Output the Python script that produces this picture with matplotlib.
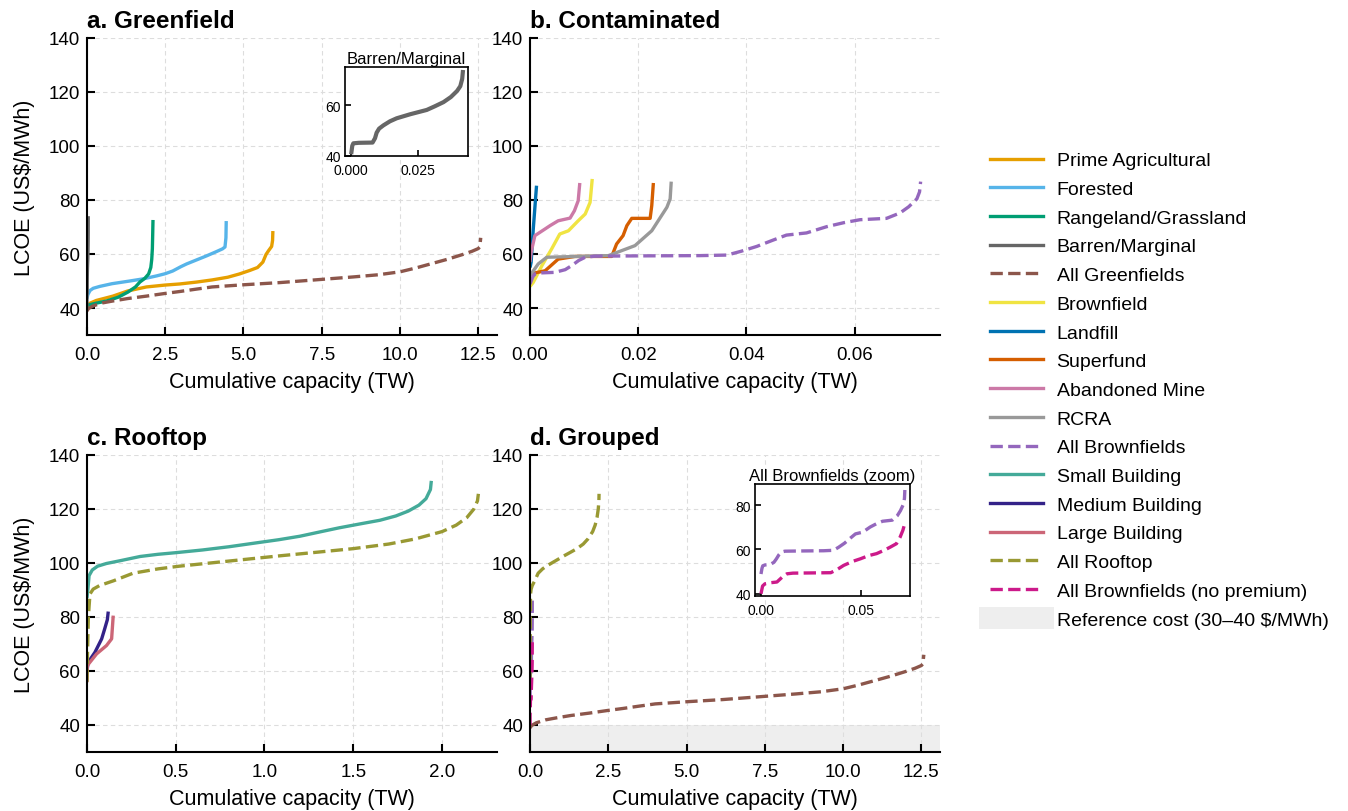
import matplotlib
matplotlib.use("Agg")
import matplotlib.pyplot as plt
from matplotlib.lines import Line2D
from matplotlib.patches import Patch, Rectangle
from matplotlib.legend_handler import HandlerPatch

plt.rcParams['font.family'] = ['Liberation Sans', 'DejaVu Sans']

# ---------------- data (cumulative capacity TW, LCOE $/MWh) ----------------
prime_x = [0, 0.1, 0.3, 0.6, 0.83, 1.3, 1.9, 2.5, 2.96, 3.5, 4.0, 4.5, 4.87, 5.2, 5.45, 5.62,
           5.72, 5.8, 5.9, 5.93, 5.94]
prime_y = [40.5, 41.8, 42.8, 43.7, 44.4, 46.3, 47.8, 48.5, 48.9, 49.6, 50.4, 51.4, 52.6, 53.9,
           55.0, 57.0, 59.8, 61.2, 62.8, 65.0, 68.5]

forest_x = [0, 0.03, 0.1, 0.2, 0.41, 0.8, 1.37, 1.8, 2.23, 2.5, 2.74, 3.0, 3.18, 3.5, 3.82, 4.1,
            4.33, 4.41, 4.44, 4.45]
forest_y = [43.5, 45.0, 46.5, 47.3, 48.0, 49.0, 50.0, 50.8, 51.9, 52.7, 53.7, 55.3, 56.3, 57.8,
            59.3, 60.7, 61.9, 62.6, 66.0, 72.2]

range_x = [0, 0.3, 0.63, 1.0, 1.31, 1.55, 1.69, 1.85, 1.97, 2.04, 2.07, 2.09, 2.1, 2.11]
range_y = [41.0, 41.8, 42.6, 44.0, 45.9, 47.8, 49.6, 51.0, 52.6, 55.0, 58.0, 62.0, 67.0, 72.6]

barren_x = [0.0002, 0.0006, 0.001, 0.003, 0.0081, 0.009, 0.0096, 0.0105, 0.0121, 0.0145, 0.017,
            0.022, 0.0281, 0.031, 0.0343, 0.037, 0.0393, 0.0405, 0.0412, 0.0415]
barren_y = [40.7, 44.0, 45.0, 45.2, 45.3, 47.0, 49.2, 50.8, 52.1, 53.7, 54.9,
            56.5, 58.2, 59.6, 61.3, 63.3, 65.7, 67.6, 70.5, 74.0]

allgreen_x = [0, 0.05, 0.2, 0.5, 0.83, 1.3, 1.9, 2.5, 2.96, 3.5, 4.0, 5.0, 6.15, 7.5, 8.5, 9.3,
              10.0, 10.5, 11.0, 11.5, 12.0, 12.3, 12.5, 12.55, 12.58]
allgreen_y = [38.9, 39.8, 40.8, 41.9, 42.6, 43.5, 44.4, 45.4, 46.1, 47.0, 47.8, 48.6, 49.4, 50.6,
              51.5, 52.3, 53.4, 54.8, 56.4, 58.0, 59.8, 61.0, 62.0, 62.6, 66.0]

brownf_x = [0, 0.0006, 0.0022, 0.004, 0.0055, 0.0071, 0.0089, 0.0102, 0.0111, 0.0115]
brownf_y = [48.0, 49.5, 55.7, 61.9, 67.4, 68.6, 72.3, 74.8, 79.1, 87.8]

landfill_x = [0, 0.0002, 0.0006, 0.0012]
landfill_y = [55.0, 56.9, 69.3, 85.3]

superfund_x = [0, 0.0028, 0.0052, 0.0083, 0.0151, 0.016, 0.0172, 0.0179, 0.0188, 0.0222, 0.0225, 0.0228]
superfund_y = [52.6, 53.8, 58.1, 59.1, 59.1, 63.7, 66.8, 70.5, 73.2, 73.2, 77.9, 86.3]

mine_x = [0, 0.0002, 0.0009, 0.0028, 0.0037, 0.0052, 0.0074, 0.0082, 0.0089, 0.0092]
mine_y = [57.0, 60.6, 66.8, 69.3, 70.5, 72.3, 73.3, 76.0, 79.7, 86.3]

rcra_x = [0, 0.0015, 0.0031, 0.0145, 0.0194, 0.0225, 0.0253, 0.0259, 0.0261]
rcra_y = [52.0, 56.3, 58.8, 59.4, 63.1, 68.6, 77.3, 80.4, 86.8]

allbrown_x = [0, 0.0005, 0.0009, 0.002, 0.0046, 0.0065, 0.0077, 0.009, 0.0102, 0.012, 0.02,
              0.0314, 0.0364, 0.039, 0.0419, 0.045, 0.0474, 0.0511, 0.0548, 0.058, 0.061,
              0.0659, 0.0684, 0.07, 0.0715, 0.072, 0.0722]
allbrown_y = [48.9, 51.5, 52.6, 53.0, 53.2, 54.2, 55.7, 57.6, 58.8, 59.2, 59.3,
              59.4, 59.6, 61.0, 62.8, 65.2, 67.0, 67.8, 70.1, 71.6, 72.7,
              73.2, 75.2, 77.5, 80.4, 83.0, 86.8]

nopremium_x = [0, 0.0008, 0.002, 0.005, 0.008, 0.011, 0.013, 0.016, 0.035, 0.038, 0.0415, 0.046,
               0.05, 0.054, 0.058, 0.062, 0.065, 0.068, 0.0698, 0.0712, 0.0721]
nopremium_y = [40.0, 43.5, 44.5, 45.0, 45.3, 47.8, 49.0, 49.3, 49.5, 50.8, 52.8, 54.6,
               55.8, 57.2, 58.1, 59.7, 61.1, 62.6, 65.5, 68.6, 71.5]

small_x = [0, 0.005, 0.012, 0.03, 0.06, 0.11, 0.185, 0.3, 0.4, 0.5, 0.65, 0.8, 0.95, 1.08, 1.2,
           1.32, 1.42, 1.55, 1.65, 1.74, 1.81, 1.87, 1.91, 1.935, 1.94]
small_y = [87.0, 90.0, 95.3, 97.4, 98.8, 99.8, 100.8, 102.4, 103.2, 103.8, 104.8, 106.0, 107.4,
           108.6, 109.9, 111.6, 113.0, 114.6, 115.8, 117.4, 119.2, 121.4, 123.8, 127.2, 130.4]

medium_x = [0, 0.007, 0.045, 0.083, 0.10, 0.115, 0.12]
medium_y = [60.0, 63.2, 66.9, 71.9, 75.6, 79.0, 82.0]

large_x = [0, 0.002, 0.054, 0.11, 0.139, 0.148]
large_y = [55.8, 62.0, 66.3, 69.4, 71.9, 80.5]

allroof_x = [0, 0.003, 0.008, 0.017, 0.035, 0.07, 0.15, 0.26, 0.4, 0.52, 0.8, 1.08, 1.3, 1.5,
             1.7, 1.85, 2.0, 2.08, 2.14, 2.18, 2.2, 2.205]
allroof_y = [56.0, 66.0, 80.0, 88.5, 90.3, 91.6, 93.4, 96.2, 97.8, 98.8, 100.7, 102.6, 104.0,
             105.3, 107.0, 108.9, 111.6, 114.0, 116.8, 120.0, 123.0, 125.6]

ref_cost = [30, 40]
y_ticks = [40, 60, 80, 100, 120, 140]

# ---------------- styles ----------------
C = {
    'Prime Agricultural': '#E69F00', 'Forested': '#56B4E9', 'Rangeland/Grassland': '#009E73',
    'Barren/Marginal': '#666666', 'All Greenfields': '#8C564B', 'Brownfield': '#F0E442',
    'Landfill': '#0072B2', 'Superfund': '#D55E00', 'Abandoned Mine': '#CC79A7', 'RCRA': '#999999',
    'All Brownfields': '#9467BD', 'Small Building': '#44AA99', 'Medium Building': '#332288',
    'Large Building': '#CC6677', 'All Rooftop': '#999933', 'All Brownfields (no premium)': '#CC1A8A',
}
DASHED = {'All Greenfields', 'All Brownfields', 'All Rooftop', 'All Brownfields (no premium)'}
LW = 2.4

fig = plt.figure(figsize=(13.48, 8.12), dpi=100)

W = 0.3042
H = 0.3658
axa = fig.add_axes([0.0645, 0.5862, W, H])
axb = fig.add_axes([0.3932, 0.5862, W, H])
axc = fig.add_axes([0.0645, 0.0727, W, H])
axd = fig.add_axes([0.3932, 0.0727, W, H])


def line(ax, x, y, name, lw=LW, z=2):
    ax.plot(x, y, color=C[name], lw=lw, ls='--' if name in DASHED else '-',
            solid_capstyle='butt', solid_joinstyle='round', zorder=z)


def style(ax, title, xlim, xticks, fmt, ylabel=True):
    ax.set_ylim(30, 140)
    ax.set_xlim(*xlim)
    ax.set_yticks(y_ticks)
    ax.set_xticks(xticks)
    ax.set_xticklabels([fmt.format(t) for t in xticks])
    ax.spines['top'].set_visible(False)
    ax.spines['right'].set_visible(False)
    for s in ('left', 'bottom'):
        ax.spines[s].set_linewidth(1.5)
    ax.tick_params(direction='in', length=6, width=1.5, labelsize=13.5)
    ax.tick_params(axis='y', pad=5)
    ax.tick_params(axis='x', pad=8)
    ax.grid(True, ls=(0, (4, 3)), color='#dddddd', lw=0.8, zorder=0)
    ax.set_axisbelow(True)
    ax.set_xlabel('Cumulative capacity (TW)', fontsize=15.5, labelpad=6)
    if ylabel:
        ax.set_ylabel('LCOE (US\\$/MWh)', fontsize=15.5, labelpad=10)
    ax.set_title(title, loc='left', fontsize=17.5, fontweight='bold', pad=8)


# a. Greenfield
line(axa, prime_x, prime_y, 'Prime Agricultural')
line(axa, forest_x, forest_y, 'Forested')
line(axa, range_x, range_y, 'Rangeland/Grassland')
line(axa, barren_x, barren_y, 'Barren/Marginal')
line(axa, allgreen_x, allgreen_y, 'All Greenfields')
style(axa, 'a. Greenfield', (0, 13.1), [0, 2.5, 5, 7.5, 10, 12.5], '{:.1f}')

# b. Contaminated
line(axb, brownf_x, brownf_y, 'Brownfield')
line(axb, landfill_x, landfill_y, 'Landfill')
line(axb, superfund_x, superfund_y, 'Superfund')
line(axb, mine_x, mine_y, 'Abandoned Mine')
line(axb, rcra_x, rcra_y, 'RCRA')
line(axb, allbrown_x, allbrown_y, 'All Brownfields')
style(axb, 'b. Contaminated', (0, 0.0758), [0, 0.02, 0.04, 0.06], '{:.2f}', ylabel=False)

# c. Rooftop
line(axc, small_x, small_y, 'Small Building')
line(axc, medium_x, medium_y, 'Medium Building')
line(axc, large_x, large_y, 'Large Building')
line(axc, allroof_x, allroof_y, 'All Rooftop')
style(axc, 'c. Rooftop', (0, 2.31), [0, 0.5, 1.0, 1.5, 2.0], '{:.1f}')

# d. Grouped
axd.axhspan(ref_cost[0], ref_cost[1], color='#eeeeee', zorder=0.5, lw=0)
line(axd, allgreen_x, allgreen_y, 'All Greenfields')
line(axd, allbrown_x, allbrown_y, 'All Brownfields')
line(axd, allroof_x, allroof_y, 'All Rooftop')
line(axd, nopremium_x, nopremium_y, 'All Brownfields (no premium)')
style(axd, 'd. Grouped', (0, 13.1), [0, 2.5, 5, 7.5, 10, 12.5], '{:.1f}', ylabel=False)


def inset_style(ax, title):
    for s in ax.spines.values():
        s.set_linewidth(1.2)
    ax.tick_params(direction='in', length=4, width=1.2, labelsize=10)
    ax.tick_params(axis='y', pad=3)
    ax.tick_params(axis='x', pad=5)
    ax.set_title(title, fontsize=12, pad=3)


# inset a
ia = fig.add_axes([0.2559, 0.8067, 0.0912, 0.1096])
line(ia, barren_x, barren_y, 'Barren/Marginal', lw=3)
ia.set_xlim(-0.0021, 0.0433)
ia.set_ylim(40, 75.2)
ia.set_xticks([0, 0.025])
ia.set_xticklabels(['0.000', '0.025'])
ia.set_yticks([40, 60])
inset_style(ia, 'Barren/Marginal')

# inset d
idd = fig.add_axes([0.5601, 0.2648, 0.115, 0.1379])
line(idd, allbrown_x, allbrown_y, 'All Brownfields')
line(idd, nopremium_x, nopremium_y, 'All Brownfields (no premium)')
idd.set_xlim(-0.003, 0.0748)
idd.set_ylim(39, 89.5)
idd.set_xticks([0, 0.05])
idd.set_xticklabels(['0.00', '0.05'])
idd.set_yticks([40, 60, 80])
inset_style(idd, 'All Brownfields (zoom)')


# legend
class BigPatch(HandlerPatch):
    def __init__(self):
        def f(legend, orig_handle, xdescent, ydescent, width, height, fontsize):
            return Rectangle((-xdescent - 8, -ydescent - 3), width + 16, height + 6)
        super().__init__(patch_func=f)


names = list(C.keys())
handles = [Line2D([0], [0], color=C[n], lw=LW, ls='--' if n in DASHED else '-') for n in names]
ref_patch = Patch(facecolor='#eeeeee', edgecolor='none')
handles.append(ref_patch)
labels = names + ['Reference cost (30\u201340 \\$/MWh)']
fig.legend(handles, labels, loc='upper left', bbox_to_anchor=(0.729, 0.8214),
           frameon=False, fontsize=14, handlelength=2.7, handletextpad=0.7,
           labelspacing=0.57, borderaxespad=0, handler_map={ref_patch: BigPatch()})

fig.savefig('out.png', dpi=100)
